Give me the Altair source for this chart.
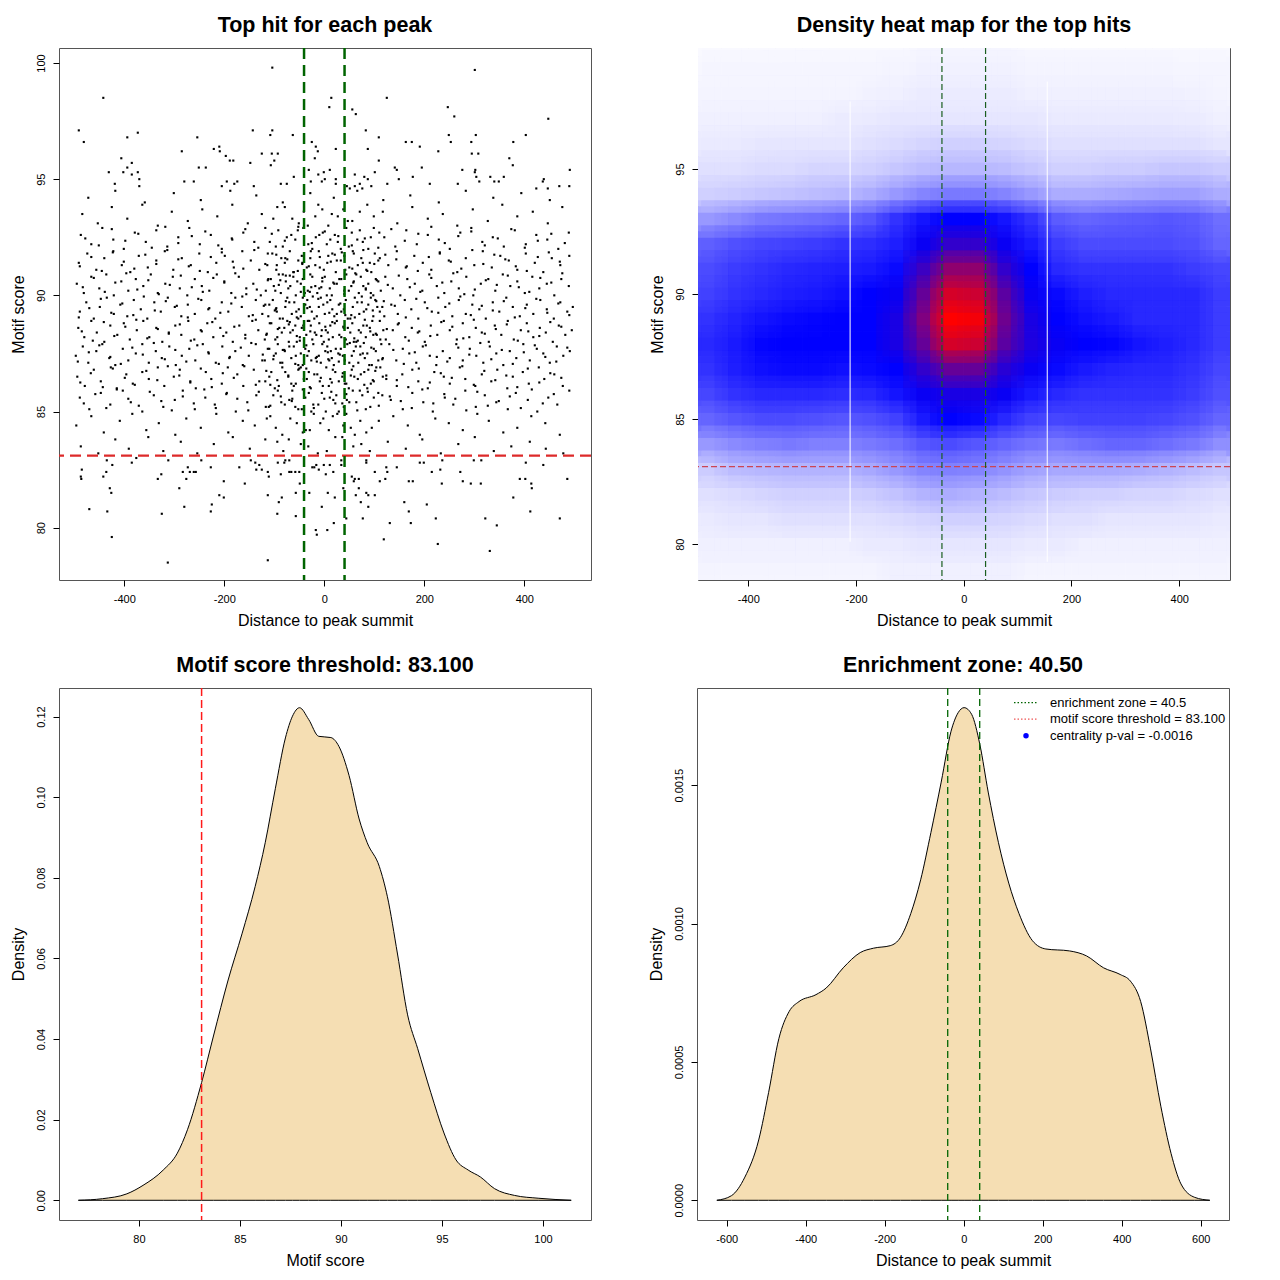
import altair as alt
import pandas as pd

FONT = "Liberation Sans"
W = H = 532

# ---------------- values ----------------
zone = 40.5
threshold = 83.1
titles = ["Top hit for each peak", "Density heat map for the top hits",
          "Motif score threshold: 83.100", "Enrichment zone: 40.50"]
legend_labels = ["enrichment zone = 40.5", "motif score threshold = 83.100",
                 "centrality p-val = -0.0016"]
legend_colors = ["#006400", "#ee5555", "#0000ff"]

# sparse points above the dense band (distance, score)
top_points = [(-104,99.8),(301,99.7),(-442,98.5),(14,98.5),(125,98.5),(10,98.1),(56,98.0),(63,97.8),
 (247,98.1),(260,97.7),(448,97.6),(-491,97.1),(-481,96.6),(-394,96.8),(-373,97.0),(-143,97.1),(-104,97.1),
 (-108,96.9),(-63,96.9),(-254,96.8),(-285,96.2),(-221,96.3),(-210,96.4),(-209,96.2),(-197,96.0),(-189,95.8),
 (-182,95.8),(-125,96.1),(-105,96.1),(-93,96.1),(-100,95.8),(-107,95.6),(-148,95.7),(-406,95.9),(-385,95.7),
 (-394,95.5),(-431,95.3),(-402,95.3),(-373,95.3),(-385,95.2),(-370,95.0),(-419,94.8),(-370,94.7),(-251,95.5),
 (-237,95.5),(-280,94.9),(-261,94.9),(-205,94.7),(-195,94.9),(-180,94.8),(-174,94.9),(-141,94.7),(-87,94.8),
 (-75,94.8),(-61,95.1),(-25,96.6),(-17,96.4),(-13,96.2),(23,96.3),(-19,95.9),(-31,95.4),(11,95.4),(-12,95.2),
 (-1,95.3),(-27,94.9),(-5,94.9),(1,95.0),(23,95.0),(23,94.8),(45,94.7),(51,94.6),(61,95.2),(71,94.8),(80,95.1),
 (87,95.0),(61,94.7),(76,94.6),(94,94.7),(83,97.1),(109,96.8),(87,96.3),(109,95.8),(101,95.3),(141,95.5),
 (145,95.4),(149,95.0),(126,94.8),(163,96.6),(175,96.6),(191,96.4),(195,95.5),(177,95.1),(211,94.8),(228,96.2),
 (249,96.9),(253,96.6),(303,96.9),(294,96.6),(295,96.1),(308,96.1),(276,95.4),(302,95.4),(301,95.3),(304,95.1),
 (310,94.9),(267,94.8),(332,95.1),(340,94.9),(349,94.9),(359,95.1),(403,96.9),(378,96.6),(370,95.9),(377,95.6),
 (439,95.0),(437,94.9),(491,95.4),(424,94.6),(447,94.6),(470,94.7),(490,94.7)]

# sparse points below the threshold line
bottom_points = [(-485,82.5),(-487,82.2),(-486,82.1),(-436,82.4),(-442,82.2),(-424,82.7),(-435,82.9),(-385,82.8),
 (-429,81.7),(-426,81.5),(-470,80.8),(-434,80.7),(-425,79.6),(-376,83.0),(-312,82.9),(-326,82.3),(-333,82.1),
 (-325,80.6),(-313,78.5),(-273,82.6),(-283,82.4),(-269,82.4),(-261,82.4),(-257,82.4),(-276,82.1),(-290,81.7),
 (-280,80.9),(-227,82.6),(-246,82.9),(-201,82.0),(-210,81.4),(-201,81.3),(-225,81.0),(-227,80.7),(-170,82.6),
 (-159,81.9),(-147,82.9),(-138,82.8),(-130,82.7),(-136,82.5),(-125,82.5),(-113,82.4),(-111,82.2),(-113,81.4),
 (-94,80.6),(-113,78.6),(-91,81.1),(-85,81.3),(-93,82.8),(-80,82.8),(-78,82.9),(-70,82.9),(-87,82.3),(-70,82.4),
 (-66,82.4),(-58,82.4),(-50,82.4),(-49,81.9),(-57,81.5),(-57,80.5),(-24,82.6),(-20,82.6),(-16,82.7),(-11,82.5),
 (-1,82.7),(11,82.7),(3,82.3),(18,82.4),(-30,81.5),(7,81.5),(-5,80.9),(21,81.3),(19,80.2),(-17,79.9),(-15,79.7),
 (6,79.9),(34,82.9),(34,82.7),(38,81.7),(44,80.4),(55,82.2),(61,82.1),(69,82.1),(59,82.0),(69,81.7),(63,81.4),
 (73,81.1),(84,81.5),(88,81.4),(101,81.4),(88,80.9),(77,80.4),(84,82.9),(84,82.8),(101,82.4),(111,82.0),
 (122,82.1),(126,82.4),(124,82.6),(119,79.5),(131,80.2),(145,82.6),(160,81.1),(169,80.7),(173,80.2),(169,82.0),
 (177,82.0),(191,82.8),(199,82.8),(205,81.0),(215,82.4),(223,80.4),(227,79.3),(236,82.9),(232,82.5),(235,81.9),
 (272,82.4),(277,82.0),(293,81.9),(313,81.9),(299,82.9),(314,82.9),(322,80.4),(345,80.1),(331,79.0),(378,81.3),
 (403,82.8),(391,82.1),(402,82.1),(414,81.9),(415,81.7),(412,80.7),(438,82.7),(471,80.4),(486,82.1)]

# dense band, estimated band by band (distance list, score list)
b83_x = [-487,-452,-418,-391,-352,-322,-287,-254,-221,-183,-149,-118,-82,-47,-13,22,58,91,127,163,196,233,268,301,339,374,411,443,478]
b83_y = [83.5,83.2,83.8,83.4,83.9,83.3,83.7,83.2,83.6,83.9,83.4,83.8,83.3,83.6,83.2,83.9,83.5,83.3,83.7,83.4,83.8,83.2,83.6,83.9,83.3,83.5,83.7,83.4,83.2]
c83_x = [-71,-32,5,36,74,-94]
c83_y = [83.8,83.5,83.3,83.9,83.6,83.7]
b84_x = [-496,-466,-441,-409,-384,-356,-331,-298,-276,-247,-216,-192,-163,-139,-108,-84,-55,-29,-2,26,53,84,109,138,167,191,222,249,277,306,329,358,386,414,442,471]
b84_y = [84.4,84.8,84.1,84.6,84.9,84.2,84.5,84.0,84.7,84.3,84.9,84.1,84.6,84.4,84.8,84.0,84.5,84.2,84.7,84.9,84.3,84.1,84.6,84.8,84.4,84.0,84.7,84.5,84.2,84.9,84.6,84.1,84.3,84.8,84.5,84.0]
c84_x = [-97,-68,-43,-21,-8,9,17,38,61,72,95,-115,44,-37]
c84_y = [84.3,84.7,84.1,84.9,84.5,84.2,84.8,84.4,84.0,84.6,84.3,84.7,84.9,84.2]
b85_x = [-489,-470,-447,-428,-403,-387,-364,-341,-322,-299,-283,-259,-238,-219,-195,-177,-154,-136,-111,-93,-70,-52,-31,-12,11,29,50,71,92,116,133,157,176,198,217,241,258,282,303,321,344,367,383,407,426,448,466,490]
b85_y = [85.6,85.1,85.8,85.3,85.9,85.4,85.0,85.7,85.2,85.5,85.9,85.1,85.6,85.3,85.8,85.0,85.4,85.7,85.2,85.9,85.5,85.1,85.8,85.3,85.6,85.0,85.4,85.9,85.2,85.7,85.5,85.1,85.8,85.4,85.0,85.6,85.3,85.9,85.2,85.7,85.4,85.1,85.8,85.5,85.0,85.6,85.3,85.9]
c85_x = [-117,-102,-86,-64,-45,-38,-22,-5,3,18,24,39,57,64,83,99,108,-79,-26,45,76,-58]
c85_y = [85.2,85.7,85.4,85.9,85.1,85.6,85.3,85.8,85.0,85.5,85.7,85.2,85.9,85.4,85.1,85.6,85.8,85.3,85.0,85.5,85.7,85.2]
b86_x = [-494,-479,-461,-447,-427,-415,-396,-383,-364,-351,-333,-320,-301,-289,-268,-257,-237,-226,-205,-193,-174,-162,-141,-130,-110,-99,-78,-66,-47,-35,-14,-3,17,29,49,60,80,93,112,124,145,156,176,188,207,220,239,251,271,282,302,315,334,346,366,377,397,409,429,440,460,477]
b86_y = [86.5,86.1,86.8,86.3,86.9,86.0,86.6,86.2,86.7,86.4,86.9,86.1,86.5,86.8,86.3,86.0,86.7,86.4,86.2,86.9,86.6,86.1,86.8,86.3,86.5,86.0,86.7,86.2,86.9,86.4,86.6,86.1,86.8,86.3,86.0,86.5,86.7,86.2,86.9,86.4,86.1,86.6,86.8,86.3,86.0,86.7,86.5,86.2,86.9,86.4,86.1,86.6,86.3,86.8,86.0,86.5,86.7,86.2,86.9,86.4,86.6,86.1]
c86_x = [-118,-106,-91,-84,-72,-57,-52,-41,-27,-20,-9,4,9,22,36,41,55,67,73,86,99,104,117,-61,-31,12,44,88]
c86_y = [86.3,86.7,86.1,86.9,86.5,86.2,86.8,86.4,86.0,86.6,86.3,86.9,86.1,86.7,86.5,86.2,86.8,86.4,86.6,86.0,86.3,86.9,86.5,86.1,86.7,86.4,86.2,86.8]
b87_x = [-497,-483,-472,-456,-444,-430,-418,-403,-392,-377,-364,-351,-337,-325,-310,-297,-285,-270,-258,-243,-231,-217,-204,-190,-178,-163,-151,-137,-124,-110,-97,-84,-70,-57,-43,-31,-17,-4,10,23,37,50,63,77,90,103,117,130,144,157,170,184,197,211,224,237,251,264,277,291,304,318,331,344,358,371,384,398,411,425,438,451,465,478,491]
b87_y = [87.4,87.8,87.1,87.6,87.9,87.3,87.0,87.7,87.2,87.5,87.9,87.1,87.6,87.3,87.8,87.0,87.4,87.7,87.2,87.9,87.5,87.1,87.8,87.3,87.6,87.0,87.4,87.9,87.2,87.7,87.5,87.1,87.8,87.4,87.0,87.6,87.3,87.9,87.2,87.7,87.4,87.1,87.8,87.5,87.0,87.6,87.3,87.9,87.2,87.7,87.5,87.1,87.8,87.4,87.0,87.6,87.3,87.9,87.2,87.7,87.4,87.1,87.8,87.5,87.0,87.6,87.3,87.9,87.2,87.7,87.5,87.1,87.8,87.4,87.6]
c87_x = [-119,-113,-101,-93,-88,-79,-66,-61,-52,-47,-38,-26,-22,-11,-7,2,6,15,19,28,33,41,46,55,59,68,72,81,86,95,99,108,114,-34,13]
c87_y = [87.2,87.7,87.4,87.9,87.1,87.6,87.3,87.8,87.0,87.5,87.7,87.2,87.9,87.4,87.1,87.6,87.8,87.3,87.0,87.5,87.7,87.2,87.9,87.4,87.6,87.1,87.8,87.3,87.5,87.0,87.7,87.2,87.9,87.4,87.6]
b88_x = [-492,-480,-466,-455,-440,-428,-414,-401,-389,-375,-362,-350,-336,-324,-311,-298,-286,-272,-260,-247,-234,-222,-208,-196,-183,-170,-158,-144,-132,-119,-106,-94,-80,-68,-55,-42,-30,-16,-5,9,21,34,47,59,73,85,98,111,123,137,149,162,175,187,201,213,226,239,251,265,277,290,303,315,329,341,354,367,379,393,405,418,431,443,457,469,482,495]
b88_y = [88.6,88.2,88.9,88.4,88.0,88.7,88.3,88.8,88.1,88.5,88.9,88.2,88.6,88.0,88.4,88.7,88.3,88.9,88.1,88.5,88.8,88.2,88.6,88.4,88.0,88.7,88.3,88.9,88.5,88.1,88.8,88.2,88.6,88.4,88.0,88.7,88.9,88.3,88.5,88.1,88.8,88.2,88.6,88.0,88.4,88.7,88.3,88.9,88.1,88.5,88.8,88.2,88.6,88.4,88.0,88.7,88.3,88.9,88.5,88.1,88.8,88.2,88.6,88.4,88.0,88.7,88.3,88.9,88.1,88.5,88.8,88.2,88.6,88.4,88.0,88.7,88.3,88.5]
c88_x = [-116,-109,-98,-90,-85,-74,-71,-63,-58,-49,-45,-36,-33,-24,-19,-10,-1,3,12,17,25,30,39,43,52,56,64,69,78,83,91,96,105,112,118,-27,7]
c88_y = [88.3,88.8,88.1,88.6,88.4,88.9,88.0,88.5,88.7,88.2,88.6,88.3,88.9,88.1,88.4,88.8,88.0,88.5,88.7,88.2,88.9,88.3,88.6,88.1,88.4,88.8,88.0,88.5,88.7,88.2,88.6,88.9,88.3,88.1,88.5,88.7,88.4]
b89_x = [-489,-476,-461,-449,-435,-421,-408,-394,-381,-367,-354,-340,-327,-313,-299,-286,-273,-259,-246,-232,-218,-205,-192,-178,-165,-151,-137,-124,-110,-97,-83,-70,-56,-43,-29,-15,-2,12,25,39,52,66,79,93,106,120,134,147,161,174,188,201,215,228,242,256,269,283,296,310,323,337,350,364,377,391,405,418,432,445,459,472,486,497]
b89_y = [89.3,89.7,89.0,89.5,89.9,89.2,89.6,89.1,89.8,89.4,89.0,89.7,89.3,89.9,89.5,89.1,89.6,89.2,89.8,89.4,89.0,89.7,89.3,89.9,89.5,89.1,89.8,89.2,89.6,89.4,89.0,89.7,89.3,89.9,89.5,89.1,89.6,89.8,89.2,89.4,89.0,89.7,89.3,89.9,89.5,89.1,89.6,89.2,89.8,89.4,89.0,89.7,89.3,89.9,89.5,89.1,89.8,89.2,89.6,89.4,89.0,89.7,89.3,89.9,89.5,89.1,89.6,89.2,89.8,89.4,89.0,89.7,89.3,89.5]
c89_x = [-118,-112,-103,-95,-89,-78,-74,-65,-60,-51,-47,-38,-34,-25,-20,-11,-7,1,6,16,20,29,34,43,47,57,61,70,75,84,88,98,102,111,116,-52]
c89_y = [89.6,89.1,89.8,89.3,89.0,89.5,89.9,89.2,89.7,89.4,89.1,89.6,89.8,89.3,89.0,89.5,89.9,89.2,89.7,89.4,89.1,89.6,89.3,89.8,89.0,89.5,89.9,89.2,89.7,89.4,89.6,89.1,89.8,89.3,89.5,89.0]
b90_x = [-495,-481,-466,-450,-436,-421,-406,-392,-377,-362,-347,-333,-318,-303,-289,-274,-259,-245,-230,-215,-200,-186,-171,-156,-142,-127,-112,-98,-83,-68,-54,-39,-24,-10,5,20,34,49,64,78,93,108,122,137,152,166,181,196,210,225,240,254,269,284,298,313,328,342,357,372,386,401,416,430,445,460,474,489]
b90_y = [90.5,90.1,90.8,90.3,90.9,90.0,90.6,90.2,90.7,90.4,90.9,90.1,90.5,90.8,90.3,90.0,90.7,90.4,90.2,90.9,90.6,90.1,90.8,90.3,90.5,90.0,90.7,90.2,90.9,90.4,90.6,90.1,90.8,90.3,90.0,90.5,90.7,90.2,90.9,90.4,90.1,90.6,90.8,90.3,90.0,90.7,90.5,90.2,90.9,90.4,90.1,90.6,90.3,90.8,90.0,90.5,90.7,90.2,90.9,90.4,90.6,90.1,90.8,90.3,90.5,90.0,90.7,90.4]
c90_x = [-117,-107,-101,-91,-87,-77,-72,-62,-57,-47,-43,-33,-28,-18,-14,-4,1,11,15,25,30,40,44,54,59,69,73,83,88,98,103,113]
c90_y = [90.2,90.7,90.4,90.9,90.1,90.6,90.3,90.8,90.0,90.5,90.7,90.2,90.9,90.4,90.1,90.6,90.8,90.3,90.0,90.5,90.7,90.2,90.9,90.4,90.6,90.1,90.8,90.3,90.5,90.0,90.7,90.2]
b91_x = [-491,-474,-456,-440,-422,-405,-388,-371,-353,-336,-319,-302,-285,-267,-250,-233,-216,-199,-181,-164,-147,-130,-113,-95,-78,-61,-44,-27,-9,8,25,42,59,77,94,111,128,145,163,180,197,214,231,249,266,283,300,317,335,352,369,386,403,421,438,455,472,490]
b91_y = [91.4,91.8,91.1,91.6,91.9,91.3,91.0,91.7,91.2,91.5,91.9,91.1,91.6,91.3,91.8,91.0,91.4,91.7,91.2,91.9,91.5,91.1,91.8,91.3,91.6,91.0,91.4,91.9,91.2,91.7,91.5,91.1,91.8,91.4,91.0,91.6,91.3,91.9,91.2,91.7,91.4,91.1,91.8,91.5,91.0,91.6,91.3,91.9,91.2,91.7,91.5,91.1,91.8,91.4,91.0,91.6,91.3,91.7]
c91_x = [-114,-104,-96,-86,-79,-69,-62,-52,-45,-35,-28,-18,-11,-1,6,16,23,33,40,50,57,67,74,84,91,101,108]
c91_y = [91.3,91.8,91.1,91.6,91.4,91.9,91.0,91.5,91.7,91.2,91.6,91.3,91.9,91.1,91.4,91.8,91.0,91.5,91.7,91.2,91.9,91.3,91.6,91.1,91.4,91.8,91.5]
b92_x = [-487,-466,-444,-422,-401,-379,-357,-336,-314,-292,-270,-249,-227,-205,-184,-162,-140,-118,-97,-75,-53,-32,-10,12,33,55,77,99,120,142,164,185,207,229,251,272,294,316,337,359,381,403,424,446,468,489]
b92_y = [92.6,92.2,92.9,92.4,92.0,92.7,92.3,92.8,92.1,92.5,92.9,92.2,92.6,92.0,92.4,92.7,92.3,92.9,92.1,92.5,92.8,92.2,92.6,92.4,92.0,92.7,92.3,92.9,92.5,92.1,92.8,92.2,92.6,92.4,92.0,92.7,92.9,92.3,92.5,92.1,92.8,92.2,92.6,92.4,92.0,92.7]
c92_x = [-109,-92,-83,-66,-58,-42,-24,-17,-3,5,21,27,44,49,66,71,88,93,110]
c92_y = [92.3,92.8,92.1,92.6,92.4,92.9,92.0,92.5,92.7,92.2,92.6,92.3,92.9,92.1,92.4,92.8,92.0,92.5,92.7]
b93_x = [-484,-453,-425,-394,-364,-333,-305,-273,-244,-214,-184,-153,-125,-94,-64,-33,-4,27,56,86,117,146,176,207,237,266,297,327,356,386,417,447,476]
b93_y = [93.5,93.1,93.8,93.3,93.9,93.0,93.6,93.2,93.7,93.4,93.9,93.1,93.5,93.8,93.3,93.0,93.7,93.4,93.2,93.9,93.6,93.1,93.8,93.3,93.5,93.0,93.7,93.2,93.9,93.4,93.6,93.1,93.8]
c93_x = [-102,-79,-51,-41,-18,-12,8,15,38,47,71,99]
c93_y = [93.3,93.8,93.1,93.6,93.4,93.9,93.0,93.5,93.7,93.2,93.6,93.4]
b94_x = [-472,-418,-359,-301,-247,-188,-136,-83,-28,19,66,118,172,229,283,338,394,451]
b94_y = [94.2,94.5,94.0,94.4,94.1,94.5,94.3,94.0,94.4,94.2,94.5,94.1,94.3,94.0,94.5,94.2,94.4,94.1]
# second layer of the dense core
e85_x = [-481,-458,-436,-415,-392,-371,-349,-326,-305,-283,-261,-240,-217,-196,-174,-152,-131,-108,-87,-65,-43,-21,0,22,44,66,87,109,131,153,175,196,218,240,262,284,306,327,349,371,393,415,437,459]
e85_y = [85.35,85.75,85.15,85.95,85.55,85.25,85.85,85.45,85.05,85.65,85.35,85.95,85.15,85.75,85.55,85.05,85.85,85.25,85.65,85.45,85.95,85.15,85.55,85.35,85.75,85.05,85.85,85.25,85.65,85.45,85.15,85.95,85.35,85.75,85.55,85.05,85.85,85.25,85.45,85.65,85.15,85.95,85.35,85.75]
e86_x = [-488,-467,-443,-423,-399,-379,-356,-334,-313,-290,-268,-247,-225,-203,-181,-160,-137,-116,-94,-72,-50,-29,-7,15,37,58,80,102,124,145,168,189,211,233,255,276,299,320,342,364,386,407,430,452,474]
e86_y = [86.25,86.65,86.05,86.85,86.45,86.15,86.75,86.35,86.95,86.55,86.25,86.85,86.05,86.65,86.45,86.95,86.15,86.75,86.35,86.55,86.85,86.05,86.45,86.25,86.65,86.95,86.15,86.75,86.55,86.35,86.05,86.85,86.25,86.65,86.45,86.95,86.15,86.75,86.35,86.55,86.05,86.85,86.25,86.65,86.45]
e87_x = [-493,-471,-450,-428,-407,-384,-363,-341,-319,-298,-276,-254,-232,-211,-189,-167,-146,-123,-102,-80,-58,-36,-15,7,29,51,72,94,116,138,159,181,203,225,246,268,290,312,334,355,377,399,421,442,464,486]
e87_y = [87.15,87.55,87.85,87.35,87.05,87.75,87.45,87.95,87.25,87.65,87.15,87.85,87.55,87.05,87.35,87.75,87.95,87.45,87.25,87.65,87.05,87.85,87.35,87.55,87.15,87.95,87.45,87.75,87.25,87.65,87.05,87.55,87.85,87.35,87.15,87.75,87.45,87.95,87.25,87.65,87.05,87.55,87.85,87.35,87.15,87.75]
e88_x = [-485,-463,-441,-420,-398,-376,-354,-333,-311,-289,-267,-245,-224,-202,-180,-158,-137,-115,-93,-71,-49,-28,-6,16,38,60,81,103,125,147,169,190,212,234,256,278,299,321,343,365,387,408,430,452,474]
e88_y = [88.45,88.05,88.85,88.25,88.65,88.95,88.15,88.55,88.35,88.75,88.05,88.45,88.85,88.25,88.65,88.15,88.95,88.35,88.55,88.75,88.05,88.45,88.25,88.85,88.65,88.15,88.95,88.35,88.55,88.75,88.05,88.45,88.25,88.85,88.65,88.15,88.95,88.35,88.55,88.75,88.05,88.45,88.25,88.85,88.65]
e89_x = [-491,-470,-447,-426,-404,-382,-361,-339,-317,-295,-273,-252,-230,-208,-186,-164,-143,-121,-99,-77,-55,-34,-12,10,32,54,75,97,119,141,163,184,206,228,250,272,293,315,337,359,381,402,424,446,468,490]
e89_y = [89.05,89.45,89.85,89.25,89.65,89.15,89.95,89.35,89.75,89.55,89.05,89.85,89.45,89.25,89.65,89.95,89.15,89.55,89.35,89.75,89.05,89.45,89.85,89.25,89.65,89.15,89.95,89.35,89.75,89.55,89.05,89.85,89.45,89.25,89.65,89.95,89.15,89.55,89.35,89.75,89.05,89.45,89.85,89.25,89.65,89.15]
e90_x = [-483,-461,-439,-418,-396,-374,-352,-331,-309,-287,-265,-243,-222,-200,-178,-156,-135,-113,-91,-69,-47,-26,-4,18,40,62,83,105,127,149,171,192,214,236,258,280,301,323,345,367,389,410,432,454,476]
e90_y = [90.35,90.75,90.15,90.55,90.95,90.25,90.65,90.05,90.45,90.85,90.35,90.15,90.75,90.55,90.95,90.05,90.25,90.65,90.45,90.85,90.15,90.35,90.75,90.55,90.05,90.95,90.25,90.65,90.45,90.85,90.35,90.15,90.75,90.55,90.95,90.05,90.25,90.65,90.45,90.85,90.35,90.15,90.75,90.55,90.95]
e91_x = [-489,-466,-445,-423,-401,-380,-358,-336,-314,-292,-271,-249,-227,-205,-183,-162,-140,-118,-96,-74,-53,-31,-9,13,35,56,78,100,122,144,165,187,209,231,253,274,296,318,340,362,383,405,427,449,471]
e91_y = [91.25,91.65,91.05,91.85,91.45,91.15,91.75,91.35,91.95,91.55,91.25,91.05,91.65,91.85,91.45,91.15,91.95,91.35,91.75,91.55,91.05,91.25,91.65,91.45,91.85,91.15,91.95,91.35,91.75,91.55,91.25,91.05,91.65,91.85,91.45,91.15,91.95,91.35,91.75,91.55,91.25,91.05,91.65,91.85,91.45]
e92_x = [-478,-451,-425,-398,-372,-345,-318,-292,-265,-238,-212,-185,-158,-132,-105,-79,-52,-25,1,28,55,81,108,134,161,188,214,241,268,294,321,347,374,401,427,454,481]
e92_y = [92.45,92.15,92.85,92.35,92.65,92.05,92.95,92.25,92.55,92.75,92.15,92.45,92.85,92.05,92.65,92.35,92.95,92.25,92.75,92.55,92.15,92.45,92.05,92.85,92.35,92.65,92.95,92.25,92.55,92.75,92.15,92.45,92.85,92.05,92.35,92.65,92.25]
ec_x = [-108,-96,-83,-77,-64,-55,-44,-36,-23,-15,-6,2,14,21,31,42,53,58,67,79,86,97,104,-69,-29,8,36,61,92,-88]
ec_y = [86.15,89.45,87.65,90.85,85.55,88.25,91.35,86.85,89.95,87.15,90.35,88.65,85.85,91.75,87.45,89.15,86.55,90.55,88.05,87.95,91.05,86.35,89.75,88.85,90.15,87.25,85.35,89.05,88.45,90.65]

# density of the heat map: columns (distance), rows (score), value 0 = white, 0.5 = blue, 1 = red
heat_x = [-475,-425,-375,-325,-275,-225,-175,-125,-75,-25,25,75,125,175,225,275,325,375,425,475]
heat_y = [100,99,98,97,96,95,94,93,92,91,90,89,88,87,86,85,84,83,82,81,80,79]
heat_v = [
 [0.01,0.01,0.01,0.01,0.01,0.01,0.01,0.01,0.015,0.015,0.015,0.015,0.01,0.01,0.01,0.01,0.01,0.01,0.01,0.01],
 [0.015,0.015,0.015,0.015,0.015,0.015,0.015,0.02,0.025,0.025,0.025,0.025,0.02,0.02,0.02,0.02,0.02,0.02,0.015,0.015],
 [0.02,0.02,0.02,0.02,0.02,0.02,0.025,0.03,0.035,0.035,0.035,0.035,0.03,0.03,0.03,0.03,0.03,0.03,0.025,0.02],
 [0.03,0.03,0.03,0.03,0.03,0.035,0.04,0.045,0.05,0.05,0.05,0.05,0.045,0.04,0.04,0.04,0.04,0.04,0.035,0.03],
 [0.04,0.04,0.045,0.05,0.05,0.05,0.06,0.07,0.08,0.09,0.09,0.08,0.07,0.06,0.06,0.06,0.06,0.06,0.06,0.05],
 [0.06,0.06,0.07,0.07,0.08,0.08,0.09,0.11,0.13,0.14,0.14,0.13,0.11,0.09,0.09,0.10,0.10,0.11,0.11,0.10],
 [0.09,0.10,0.11,0.12,0.13,0.14,0.16,0.20,0.24,0.26,0.26,0.24,0.20,0.16,0.16,0.17,0.18,0.19,0.19,0.16],
 [0.20,0.23,0.26,0.27,0.28,0.30,0.33,0.40,0.46,0.50,0.50,0.46,0.40,0.32,0.30,0.31,0.32,0.33,0.32,0.28],
 [0.31,0.34,0.36,0.37,0.38,0.40,0.41,0.44,0.52,0.60,0.60,0.52,0.45,0.38,0.35,0.35,0.35,0.35,0.34,0.30],
 [0.35,0.38,0.40,0.42,0.43,0.44,0.45,0.48,0.62,0.78,0.78,0.60,0.50,0.42,0.40,0.40,0.40,0.40,0.38,0.36],
 [0.37,0.40,0.42,0.44,0.45,0.47,0.50,0.52,0.70,0.92,0.90,0.68,0.52,0.48,0.44,0.42,0.42,0.42,0.42,0.38],
 [0.40,0.43,0.46,0.48,0.49,0.50,0.50,0.55,0.75,1.00,0.98,0.72,0.55,0.50,0.47,0.45,0.42,0.42,0.42,0.38],
 [0.42,0.45,0.49,0.50,0.50,0.50,0.50,0.55,0.70,0.92,0.90,0.68,0.56,0.52,0.50,0.49,0.46,0.44,0.42,0.38],
 [0.40,0.44,0.47,0.48,0.48,0.47,0.48,0.50,0.60,0.70,0.70,0.58,0.52,0.48,0.45,0.43,0.42,0.42,0.40,0.36],
 [0.36,0.40,0.42,0.42,0.42,0.41,0.42,0.46,0.52,0.55,0.55,0.52,0.45,0.42,0.40,0.40,0.40,0.40,0.38,0.34],
 [0.30,0.33,0.35,0.35,0.34,0.33,0.34,0.37,0.45,0.50,0.48,0.42,0.37,0.36,0.37,0.37,0.37,0.36,0.34,0.30],
 [0.20,0.23,0.25,0.26,0.25,0.25,0.26,0.28,0.33,0.35,0.33,0.30,0.27,0.26,0.28,0.30,0.30,0.28,0.26,0.22],
 [0.10,0.13,0.14,0.15,0.15,0.15,0.17,0.20,0.24,0.25,0.24,0.21,0.18,0.17,0.17,0.17,0.16,0.15,0.13,0.11],
 [0.06,0.07,0.08,0.09,0.09,0.09,0.10,0.12,0.15,0.16,0.15,0.13,0.11,0.10,0.09,0.09,0.08,0.08,0.07,0.06],
 [0.04,0.05,0.05,0.06,0.06,0.06,0.06,0.07,0.08,0.09,0.09,0.08,0.07,0.06,0.06,0.05,0.05,0.05,0.05,0.04],
 [0.03,0.03,0.03,0.03,0.03,0.03,0.04,0.04,0.05,0.05,0.05,0.05,0.04,0.04,0.03,0.03,0.03,0.03,0.03,0.03],
 [0.02,0.02,0.02,0.02,0.02,0.02,0.02,0.03,0.03,0.03,0.03,0.03,0.02,0.02,0.02,0.02,0.02,0.02,0.02,0.02]]
heat_cell_w = 50
heat_cell_h = 1
# thin white seams visible in the heat image: x, score from, score to
seam_x = [-211, 155]
seam_y0 = [80.1, 79.3]
seam_y1 = [97.7, 98.5]

# motif score density curve
score_x = [77.0,78.2,79.4,80.2,81.2,81.9,82.4,83.1,83.7,84.4,85.1,85.75,86.25,86.75,87.25,87.6,87.95,88.4,88.9,89.5,89.9,90.4,90.9,91.3,91.9,92.3,92.8,93.3,93.8,94.45,95.1,95.7,96.3,96.9,97.6,98.6,99.8,101.4]
score_d = [0,0.0004,0.0016,0.0037,0.0075,0.0117,0.0175,0.0292,0.041,0.0544,0.0661,0.0778,0.0887,0.1021,0.1147,0.1201,0.1222,0.1193,0.1151,0.1148,0.1126,0.1054,0.0946,0.0887,0.0828,0.0753,0.0611,0.046,0.0376,0.0267,0.0167,0.01,0.0075,0.0058,0.0029,0.0012,0.0005,0]

# distance density curve
dist_x = [-625,-588,-554,-519,-494,-468,-442,-417,-374,-348,-305,-262,-228,-186,-160,-134,-109,-83,-57,-32,-14,1,20,41,62,88,114,140,174,208,268,311,354,396,422,448,473,499,525,550,585,623]
dist_d = [0,0.0000166,0.0000838,0.000218,0.000389,0.000584,0.000682,0.000718,0.000743,0.000767,0.00084,0.000895,0.000911,0.00092,0.00095,0.001036,0.001158,0.001329,0.001511,0.001695,0.001762,0.00178,0.001756,0.001646,0.001475,0.001292,0.001146,0.001036,0.000938,0.000908,0.000901,0.000883,0.00084,0.000816,0.000792,0.000718,0.000547,0.00034,0.000169,0.0000592,0.0000105,0]

# ---------------- tables ----------------
bands = [(b83_x,b83_y),(c83_x,c83_y),(b84_x,b84_y),(c84_x,c84_y),(b85_x,b85_y),(c85_x,c85_y),
         (b86_x,b86_y),(c86_x,c86_y),(b87_x,b87_y),(c87_x,c87_y),(b88_x,b88_y),(c88_x,c88_y),
         (b89_x,b89_y),(c89_x,c89_y),(b90_x,b90_y),(c90_x,c90_y),(b91_x,b91_y),(c91_x,c91_y),
         (b92_x,b92_y),(c92_x,c92_y),(b93_x,b93_y),(c93_x,c93_y),(b94_x,b94_y),
         (e85_x,e85_y),(e86_x,e86_y),(e87_x,e87_y),(e88_x,e88_y),(e89_x,e89_y),(e90_x,e90_y),
         (e91_x,e91_y),(e92_x,e92_y),(ec_x,ec_y)]
pts = list(top_points) + list(bottom_points)
for bx, by in bands:
    pts += list(zip(bx, by))
scatter_df = pd.DataFrame(pts, columns=["dist", "score"])

cells = []
for i, yc in enumerate(heat_y):
    for j, xc in enumerate(heat_x):
        cells.append({"xc": xc, "yc": yc, "v": heat_v[i][j]})
heat_df = pd.DataFrame(cells)
seam_df = pd.DataFrame({"sx": seam_x, "sy0": seam_y0, "sy1": seam_y1})
zone_df = pd.DataFrame({"z": [-zone, zone]})
thr_df = pd.DataFrame({"t": [threshold]})
score_df = pd.DataFrame({"score": score_x, "dens": score_d})
dist_df = pd.DataFrame({"dist": dist_x, "dens": dist_d})
leg_df = pd.DataFrame({"label": legend_labels, "col": legend_colors, "row": [0, 1, 2]})

# ---------------- scales & axes ----------------
def sc(lo, hi):
    return alt.Scale(domain=[lo, hi], nice=False, zero=False)

s1x, s1y = sc(-530.6, 533.4), sc(77.75, 100.645)
s2x, s2y = sc(-493.4, 494.3), sc(78.57, 99.84)
s3x, s3y = sc(76.04, 102.38), sc(-0.00489, 0.12709)
s4x, s4y = sc(-675.2, 671.6), sc(-0.0000712, 0.001851)

RAW = "'' + datum.value"

def ax(title, values, expr=RAW):
    return alt.Axis(title=title, values=values, labelExpr=expr)

DIST = "Distance to peak summit"
SCORE = "Motif score"
a1x = ax(DIST, [-400, -200, 0, 200, 400])
a1y = ax(SCORE, [80, 85, 90, 95, 100])
a2x = ax(DIST, [-400, -200, 0, 200, 400])
a2y = ax(SCORE, [80, 85, 90, 95])
a3x = ax(SCORE, [80, 85, 90, 95, 100])
a3y = ax("Density", [0, 0.02, 0.04, 0.06, 0.08, 0.10, 0.12], "format(datum.value, '.2f')")
a4x = ax(DIST, [-600, -400, -200, 0, 200, 400, 600])
a4y = ax("Density", [0, 0.0005, 0.001, 0.0015], "format(datum.value, '.4f')")

RED = "#dd2a2a"
GREEN = "#006400"

# ---------------- panel 1 ----------------
p1 = alt.layer(
    alt.Chart(scatter_df).mark_square(size=4.5, color="black", opacity=1, strokeWidth=0).encode(
        x=alt.X("dist:Q", scale=s1x, axis=a1x),
        y=alt.Y("score:Q", scale=s1y, axis=a1y)),
    alt.Chart(thr_df).mark_rule(color=RED, strokeWidth=2.2, strokeDash=[11, 6]).encode(
        y=alt.Y("t:Q", scale=s1y, axis=a1y)),
    alt.Chart(zone_df).mark_rule(color=GREEN, strokeWidth=2.5, strokeDash=[11, 6]).encode(
        x=alt.X("z:Q", scale=s1x, axis=a1x)),
).properties(width=W, height=H, title=titles[0])

# ---------------- panel 2 ----------------
heat_scale = alt.Scale(domain=[0, 0.5, 1], range=["#ffffff", "#0000ff", "#ff0000"], interpolate="rgb")

def heat_layer(fx, fy, op):
    hw, hh = heat_cell_w / 2, heat_cell_h / 2
    dx, dy = fx * heat_cell_w, fy * heat_cell_h
    base = alt.Chart(heat_df).transform_calculate(
        x0=f"datum.xc - {hw} + ({dx})", x1=f"datum.xc + {hw} + ({dx})",
        y0=f"datum.yc - {hh} + ({dy})", y1=f"datum.yc + {hh} + ({dy})")
    enc = dict(
        x=alt.X("x0:Q", scale=s2x, axis=a2x), x2="x1:Q",
        y=alt.Y("y0:Q", scale=s2y, axis=a2y), y2="y1:Q",
        color=alt.Color("v:Q", scale=heat_scale, legend=None))
    if op >= 1:
        enc["stroke"] = alt.Stroke("v:Q", scale=heat_scale, legend=None)
        return base.mark_rect(clip=True, strokeWidth=0.6).encode(**enc)
    return base.mark_rect(clip=True, opacity=op, strokeWidth=0).encode(**enc)

# the grid drawn once, then four quarter-cell shifted copies averaged on top (smooth image look)
heat_layers = [heat_layer(0, 0, 1.0),
               heat_layer(-0.25, -0.25, 1 / 2), heat_layer(0.25, -0.25, 1 / 3),
               heat_layer(-0.25, 0.25, 1 / 4), heat_layer(0.25, 0.25, 1 / 5)]

p2 = alt.layer(
    *heat_layers,
    alt.Chart(seam_df).mark_rule(color="white", strokeWidth=1).encode(
        x=alt.X("sx:Q", scale=s2x, axis=a2x),
        y=alt.Y("sy0:Q", scale=s2y, axis=a2y), y2="sy1:Q"),
    alt.Chart(thr_df).mark_rule(color="#cc4455", strokeWidth=1.2, strokeDash=[6, 3]).encode(
        y=alt.Y("t:Q", scale=s2y, axis=a2y)),
    alt.Chart(zone_df).mark_rule(color="#1b5e20", strokeWidth=1.2, strokeDash=[6, 3]).encode(
        x=alt.X("z:Q", scale=s2x, axis=a2x)),
).properties(width=W, height=H, title=titles[1])

# ---------------- panel 3 ----------------
p3 = alt.layer(
    alt.Chart(score_df).mark_area(color="#F5DEB3", stroke="black", strokeWidth=1,
                                  interpolate="monotone", opacity=1).encode(
        x=alt.X("score:Q", scale=s3x, axis=a3x),
        y=alt.Y("dens:Q", scale=s3y, stack=None, axis=a3y),
        y2=alt.datum(0)),
    alt.Chart(thr_df).mark_rule(color="#ff1a1a", strokeWidth=1.5, strokeDash=[8, 4]).encode(
        x=alt.X("t:Q", scale=s3x, axis=a3x)),
).properties(width=W, height=H, title=titles[2])

# ---------------- panel 4 ----------------
leg_base = alt.Chart(leg_df).transform_calculate(py="14.7 + 16.5 * datum.row")
p4 = alt.layer(
    alt.Chart(dist_df).mark_area(color="#F5DEB3", stroke="black", strokeWidth=1,
                                 interpolate="monotone", opacity=1).encode(
        x=alt.X("dist:Q", scale=s4x, axis=a4x),
        y=alt.Y("dens:Q", scale=s4y, stack=None, axis=a4y),
        y2=alt.datum(0)),
    alt.Chart(zone_df).mark_rule(color=GREEN, strokeWidth=1.3, strokeDash=[7, 4]).encode(
        x=alt.X("z:Q", scale=s4x, axis=a4x)),
    leg_base.transform_filter("datum.row < 2").mark_rule(strokeWidth=1.2, strokeDash=[1.5, 2]).encode(
        x=alt.value(317), x2=alt.value(341),
        y=alt.Y("py:Q", scale=None, axis=None),
        color=alt.Color("col:N", scale=None)),
    leg_base.transform_filter("datum.row == 2").mark_circle(size=30, opacity=1).encode(
        x=alt.value(329),
        y=alt.Y("py:Q", scale=None, axis=None),
        color=alt.Color("col:N", scale=None)),
    leg_base.mark_text(align="left", baseline="middle", font=FONT, fontSize=13, color="black").encode(
        x=alt.value(353),
        y=alt.Y("py:Q", scale=None, axis=None),
        text="label:N"),
).properties(width=W, height=H, title=titles[3])

row1 = alt.hconcat(p1, p2, spacing=55)
row2 = alt.hconcat(p3, p4, spacing=55)
chart = alt.vconcat(row1, row2, spacing=25).properties(
    padding={"left": 1, "top": 6, "right": 5, "bottom": 5}
).configure_view(
    stroke="#555555", strokeWidth=1
).configure_axis(
    domain=False, grid=False, ticks=True, tickColor="black", tickWidth=1, tickSize=6,
    labelFont=FONT, labelFontSize=11, labelColor="black", labelPadding=7,
    labelFlush=False, labelOverlap=False,
    titleFont=FONT, titleFontSize=16, titleFontWeight="normal", titleColor="black",
).configure_axisX(
    titlePadding=8
).configure_axisY(
    labelAngle=270, labelAlign="center", labelBaseline="bottom", titlePadding=9
).configure_title(
    font=FONT, fontSize=21.5, fontWeight="bold", anchor="middle", color="black",
    baseline="alphabetic", offset=10.5
)

chart.save("out.html", embed_options={"renderer": "svg", "actions": False})
